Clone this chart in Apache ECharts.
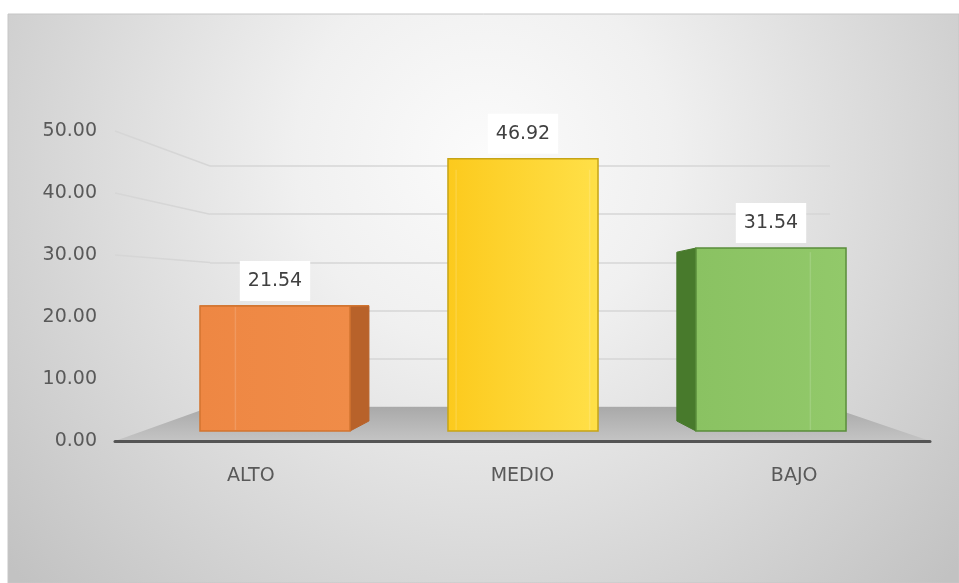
<!DOCTYPE html>
<html>
<head>
<meta charset="utf-8">
<script src="https://cdn.jsdelivr.net/npm/echarts@6.0.0/dist/echarts.min.js"></script>
<style>
  html, body { margin: 0; padding: 0; background: #ffffff; }
  #chart { width: 959px; height: 583px; }
</style>
</head>
<body>
<div id="chart"></div>
<script>
// ---- data ----
const categories = ['ALTO', 'MEDIO', 'BAJO'];
const values = [21.54, 46.92, 31.54];
const yTicks = [0, 10, 20, 30, 40, 50];

// ---- styling of the three boxes (front gradient, side, outline) ----
const barStyles = [
  { front: ['#ee8743', '#f08c48'], side: '#b8622a', edge: '#d2742f' },
  { front: ['#fcca1d', '#ffe048'], side: '#c79f0f', edge: '#c6a416' },
  { front: ['#8ac262', '#92c96a'], side: '#487a2c', edge: '#5a8d3b' }
];

// ---- pseudo-3D layout: front plane, bar plane, back wall ----
const FRONT = { left: 115, width: 815, top: 131, height: 310 };
const BACK  = { left: 210, width: 620, top: 166, height: 241 };
const BARS  = { left: 151, width: 744, top: 141, height: 290 };
const VP = [522, 301];      // point the box depth recedes toward
const DEPTH_X = 0.89;       // back face scale relative to the front face
const DEPTH_Y = 0.923;
const BAR_RATIO = 0.605;    // box width as share of the category band
const FONT = 'DejaVu Sans';

const chart = echarts.init(document.getElementById('chart'), null, { renderer: 'canvas' });

function recede(p) {
  return [VP[0] + DEPTH_X * (p[0] - VP[0]), VP[1] + DEPTH_Y * (p[1] - VP[1])];
}

function renderBox(params, api) {
  const i = api.value(0);
  const v = api.value(1);
  const topPt = api.coord([i, v]);
  const basePt = api.coord([i, 0]);
  const w = api.size([1, 0])[0] * BAR_RATIO;
  const cx = topPt[0];
  const xl = cx - w / 2, xr = cx + w / 2;
  const yt = topPt[1], yb = basePt[1];
  const f = [[xl, yt], [xr, yt], [xr, yb], [xl, yb]];
  const b = f.map(recede);
  const st = barStyles[i];
  const children = [];

  // side face (the one turned toward the viewer)
  let side = null;
  if (cx < VP[0] - 1) side = [f[1], b[1], b[2], f[2]];
  else if (cx > VP[0] + 1) side = [f[0], b[0], b[3], f[3]];
  if (side) {
    children.push({ type: 'polygon', shape: { points: side },
      style: { fill: st.side, stroke: st.side, lineWidth: 1 } });
  }
  // top face when the box top sits below eye level
  if (yt > VP[1]) {
    children.push({ type: 'polygon', shape: { points: [f[0], f[1], b[1], b[0]] },
      style: { fill: st.side, stroke: st.edge, lineWidth: 1 } });
  }
  // front face
  children.push({ type: 'rect', shape: { x: xl, y: yt, width: w, height: yb - yt },
    style: {
      fill: new echarts.graphic.LinearGradient(0, 0, 1, 0, [
        { offset: 0, color: st.front[0] }, { offset: 1, color: st.front[1] }
      ]),
      stroke: st.edge, lineWidth: 1.5
    } });
  // rear vertical edges faintly showing through the face
  [0, 1].forEach(k => {
    const x = b[k][0];
    if (x > xl + 2 && x < xr - 2) {
      children.push({ type: 'line',
        shape: { x1: x, y1: Math.max(b[k][1], yt + 1), x2: x, y2: yb - 1 },
        style: { stroke: 'rgba(255,255,255,0.14)', lineWidth: 1.5 } });
    }
  });
  // value label
  children.push({ type: 'text',
    style: {
      text: v.toFixed(2), x: cx, y: yt - 25,
      align: 'center', verticalAlign: 'middle',
      fill: '#404040', fontSize: 19, fontFamily: FONT, lineHeight: 20,
      backgroundColor: '#ffffff', padding: [10, 8]
    } });
  return { type: 'group', children: children };
}

const option = {
  animation: false,
  grid: [
    { left: FRONT.left, top: FRONT.top, width: FRONT.width, height: FRONT.height },
    { left: BACK.left, top: BACK.top, width: BACK.width, height: BACK.height },
    { left: BARS.left, top: BARS.top, width: BARS.width, height: BARS.height }
  ],
  xAxis: [
    { type: 'category', gridIndex: 0, data: categories, z: 5,
      axisLine: { lineStyle: { color: '#555555', width: 3 } },
      axisTick: { show: false },
      axisLabel: { color: '#595959', fontSize: 19, fontFamily: FONT, margin: 26 } },
    { type: 'category', gridIndex: 1, data: categories, show: false },
    { type: 'category', gridIndex: 2, data: categories, show: false }
  ],
  yAxis: [
    { type: 'value', gridIndex: 0, min: 0, max: 50, interval: 10,
      axisLine: { show: false }, axisTick: { show: false }, splitLine: { show: false },
      axisLabel: { color: '#595959', fontSize: 19, fontFamily: FONT, margin: 18,
        formatter: v => v.toFixed(2) } },
    { type: 'value', gridIndex: 1, min: 0, max: 50, interval: 10,
      axisLine: { show: false }, axisTick: { show: false }, axisLabel: { show: false },
      splitLine: { lineStyle: { color: '#d6d6d6', width: 1.5 } } },
    { type: 'value', gridIndex: 2, min: 0, max: 50, interval: 10, show: false }
  ],
  series: [
    { type: 'custom', xAxisIndex: 2, yAxisIndex: 2, z: 10,
      renderItem: renderBox,
      encode: { x: 0, y: 1 },
      data: values.map((v, i) => [i, v]) }
  ]
};
chart.setOption(option);

// ---- room: backdrop, floor and side-wall gridlines ----
const frontY = v => chart.convertToPixel({ yAxisIndex: 0 }, v);
const backY = v => chart.convertToPixel({ yAxisIndex: 1 }, v);
const floorFront = frontY(0), floorBack = backY(0);

const graphics = [
  { type: 'rect', z: -100, silent: true,
    shape: { x: 8, y: 14, width: 951, height: 569 },
    style: {
      fill: new echarts.graphic.RadialGradient(0.5, 0.25, 1.1, [
        { offset: 0, color: '#fbfbfb' },
        { offset: 0.3, color: '#f0f0f0' },
        { offset: 1, color: '#c2c2c2' }
      ]),
      stroke: '#c6c6c6', lineWidth: 1
    } },
  { type: 'polygon', z: 1, silent: true,
    shape: { points: [
      [FRONT.left, floorFront], [FRONT.left + FRONT.width, floorFront],
      [BACK.left + BACK.width, floorBack], [BACK.left, floorBack]
    ] },
    style: {
      fill: new echarts.graphic.LinearGradient(0, 0, 0, 1, [
        { offset: 0, color: '#a9a9a9' }, { offset: 1, color: '#c4c4c4' }
      ])
    } }
];
// left wall lines: visible where they slope down toward the back wall
yTicks.forEach(t => {
  if (t === 0) return;
  const fy = frontY(t), by = backY(t);
  if (by >= fy) {
    graphics.push({ type: 'line', z: 1, silent: true,
      shape: { x1: FRONT.left, y1: fy, x2: BACK.left, y2: by },
      style: { stroke: '#d6d6d6', lineWidth: 1.5 } });
  }
});
chart.setOption({ graphic: graphics });
</script>
</body>
</html>
